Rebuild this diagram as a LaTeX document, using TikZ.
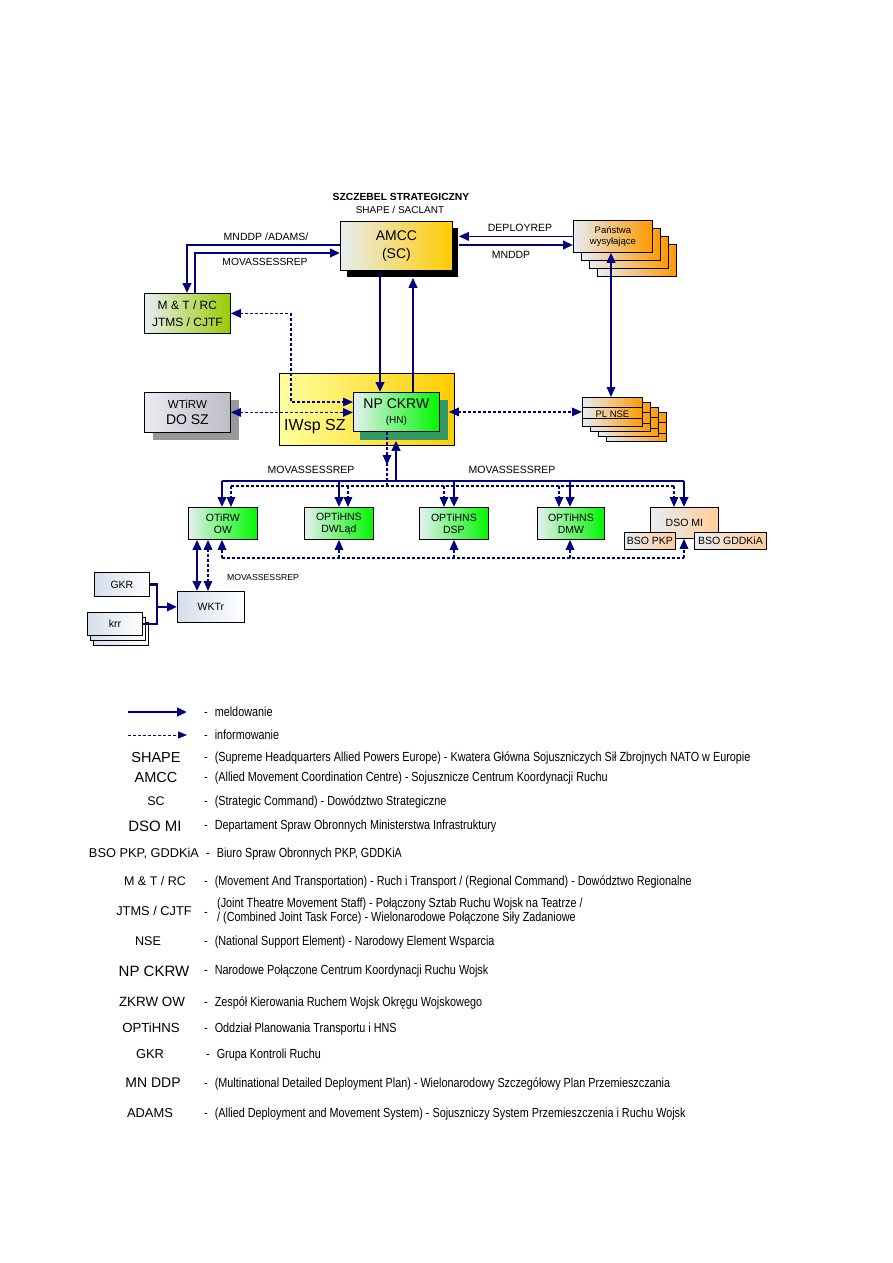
\documentclass[tikz,border=0pt]{standalone}
\usepackage{fontspec}
\setmainfont{Liberation Sans}
\newfontfamily\narrowfont[FakeStretch=0.82]{Liberation Sans}
\usetikzlibrary{arrows.meta,calc}
\definecolor{navy}{HTML}{000080}
\definecolor{lg}{HTML}{E8EDF3}
\definecolor{amccY}{HTML}{FFCC00}
\definecolor{mtG}{HTML}{99CC00}
\definecolor{orng}{HTML}{FF9900}
\definecolor{yelL}{HTML}{FFFF9C}
\definecolor{gold}{HTML}{FFCC00}
\definecolor{grn}{HTML}{00F800}
\definecolor{grnL}{HTML}{E6F0F2}
\definecolor{npsh}{HTML}{339966}
\definecolor{wtR}{HTML}{BDBDC6}
\definecolor{wtL}{HTML}{E8EBF0}
\definecolor{dsoR}{HTML}{FFCC99}
\definecolor{lbl}{HTML}{D4DEEB}
\definecolor{shgray}{HTML}{999999}
\newcommand\fs[2]{\fontsize{#1pt}{#2pt}\selectfont}
\tikzset{
 box/.style={draw=black, line width=0.8pt, inner sep=0pt, anchor=north west, align=center},
 sol/.style={draw=navy, line width=2.3pt},
 solt/.style={draw=navy, line width=1.4pt},
 solm/.style={draw=navy, line width=1.7pt},
 dsh/.style={draw=navy, line width=1.5pt, dash pattern=on 3pt off 2pt},
 dshl/.style={draw=navy, line width=0.9pt, dash pattern=on 3pt off 2pt},
 ar/.style={-{Triangle[length=10pt,width=8.5pt]}},
 arr/.style={{Triangle[length=10pt,width=8.5pt]}-{Triangle[length=10pt,width=8.5pt]}},
 lab/.style={inner sep=0pt, font=\fs{10.5}{12}},
 gbox/.style={box, left color=grnL, right color=grn, font=\fs{10.5}{12}},
 lbox/.style={box, left color=lbl, right color=white, font=\fs{10.5}{12}},
 leg/.style={inner sep=0pt},
 desc/.style={inner sep=0pt, anchor=west, font=\narrowfont\fs{13.2}{14.5}, align=left},
}
\begin{document}
\begin{tikzpicture}[x=1pt,y=-1pt]
\useasboundingbox[fill=white] (0,0) rectangle (893,1263);

% titles
\node[inner sep=0pt, font=\fs{10.3}{11}\bfseries] (t1) at (401,197) {SZCZEBEL STRATEGICZNY};
\node[inner sep=0pt, font=\fs{10}{12}] (t2) at (400,210) {SHAPE / SACLANT};

% AMCC
\node[box, draw=none, fill=black, minimum width=111pt, minimum height=49pt] (amccsh) at (347,228) {};
\node[box, minimum width=112pt, minimum height=49pt, left color=lg, right color=amccY, font=\fs{14}{18}] (amcc) at (340,221) {AMCC\\(SC)};

% M&T
\node[box, minimum width=86pt, minimum height=40pt, left color=lg, right color=mtG, font=\fs{12}{17}] (mt) at (144,293) {M \& T / RC\\JTMS / CJTF};

% Panstwa stack
\foreach \i in {3,2,1}
  \node[box, minimum width=79pt, minimum height=32pt, left color=lg, right color=orng] (pan\i) at (573+8*\i,220+8*\i) {};
\node[box, minimum width=79pt, minimum height=32pt, left color=lg, right color=orng, font=\fs{9.5}{11}] (pan0) at (573,220) {Państwa\\wysyłające};

% IWsp SZ
\node[box, minimum width=175pt, minimum height=72pt, left color=yelL, right color=gold] (iwsp) at (279,373) {};
\node[inner sep=0pt, anchor=west, font=\fs{16}{18}] (iwsplab) at (284,427) {IWsp SZ};

% NP CKRW
\node[box, draw=none, fill=npsh, minimum width=88pt, minimum height=40pt] (npsh) at (360,400) {};
\node[box, minimum width=86pt, minimum height=39pt, left color=grnL, right color=grn, font=\fs{14}{16}] (np) at (353,392) {NP CKRW\\[-1pt]{\fs{10}{12}(HN)}};

% WTiRW
\node[box, draw=none, fill=shgray, minimum width=86pt, minimum height=40pt] (wtsh) at (153,400) {};
\node[box, minimum width=86pt, minimum height=40pt, left color=wtL, right color=wtR, font=\fs{14}{16}] (wt) at (144,392) {{\fs{11.5}{14}WTiRW}\\DO SZ};

% PL NSE stack
\foreach \i in {3,2,1,0}{
  \node[box, minimum width=60pt, minimum height=29pt, left color=lg, right color=orng, font=\fs{9.5}{11}] (pl\i) at (582+8*\i,397+5*\i) {};
  \draw[line width=0.8pt] ([yshift=-10pt]pl\i.north west) -- ([yshift=-10pt]pl\i.north east);
  \draw[line width=0.8pt] ([yshift=-21pt]pl\i.north west) -- ([yshift=-21pt]pl\i.north east);
}
\node[inner sep=0pt, font=\fs{9.5}{11}] (plt) at ([yshift=-2pt]pl0.center) {PL NSE};

% lower boxes
\node[gbox, minimum width=69pt, minimum height=32pt] (otirw) at (188,507) {OTiRW\\OW};
\node[gbox, minimum width=69pt, minimum height=32pt] (dwl) at (304,507) {OPTiHNS\\DWLąd};
\node[gbox, minimum width=69pt, minimum height=32pt] (dsp) at (419,507) {OPTiHNS\\DSP};
\node[gbox, minimum width=67pt, minimum height=32pt] (dmw) at (537,507) {OPTiHNS\\DMW};
\node[box, minimum width=68pt, minimum height=31pt, left color=lg, right color=dsoR, font=\fs{10.5}{12}] (dso) at (650,507) {DSO MI};
\node[box, minimum width=51pt, minimum height=17pt, left color=lg, right color=dsoR, font=\fs{10.5}{12}] (bsopkp) at (624,532) {BSO PKP};
\node[box, minimum width=72pt, minimum height=17pt, left color=lg, right color=dsoR, font=\fs{10.5}{12}] (bsogd) at (694,532) {BSO GDDKiA};

% WKTr, GKR, krr
\node[lbox, minimum width=67pt, minimum height=31pt] (wktr) at (177,591) {WKTr};
\node[lbox, minimum width=55pt, minimum height=24pt] (gkr) at (94,572) {GKR};
\node[lbox, minimum width=55pt, minimum height=23pt] (krr3) at (93,622) {};
\node[lbox, minimum width=55pt, minimum height=23pt] (krr2) at (90,617) {};
\node[lbox, minimum width=55pt, minimum height=23pt] (krr1) at (87,612) {krr};

% ---- connectors ----
% MNDDP /ADAMS/
\draw[sol, ar] (amcc.west |- 0,245) -| (mt.north -| 187,0);
\node[lab] (lmnddp) at (266,237) {MNDDP /ADAMS/};
% MOVASSESSREP top
\draw[sol, ar] (mt.north -| 195,0) |- (amcc.west |- 0,253);
\node[lab, font=\fs{10.3}{12}] (lmov1) at (265,262) {MOVASSESSREP};

% AMCC <-> NP
\draw[sol, ar] (amcc.south -| 380,0) -- (np.north -| 380,0);
\draw[sol, ar] (np.north -| 413,0) -- (amccsh.south -| 413,0);

% DEPLOYREP / MNDDP
\draw[solt, ar] (pan0.west) -- (amccsh.east |- pan0.west);
\node[lab] (ldep) at (520,228) {DEPLOYREP};
\draw[sol, ar] (amccsh.east |- 0,245) -- (pan0.west |- 0,245);
\node[lab] (lmn) at (511,255) {MNDDP};

% Panstwa <-> PL NSE
\draw[solm, arr] (pan0.south -| 611,0) -- (pl0.north -| 611,0);

% M&T <-> NP dashed
\draw[dsh, arr] (mt.east) -| (291,402) -- (np.west |- 0,402);
% WTiRW <-> NP
\draw[dsh, arr] (wt.east) -- (np.west |- wt.east);
% NP <-> PL NSE
\draw[dsh, arr] (npsh.east |- pl0.west) -- (pl0.west);

% NP down dashed to bus
\coordinate (nd1) at (387,465);
\coordinate (nd2) at (387,486);
\draw[dsh, ar] (np.south -| nd1) -- (nd1);
\draw[dsh] ([yshift=2pt]nd1) -- (nd2);
% solid up to NP
\coordinate (nu) at (396,481);
\draw[sol, ar] (nu) -- (npsh.south -| nu);

% solid bus
\coordinate (sb1) at (222,481);
\coordinate (sb2) at (684,481);
\draw[sol] (sb1) -- (sb2);
\foreach \x/\n in {222/otirw, 339/dwl, 454/dsp, 570/dmw, 684/dso}
  \draw[sol, ar] (\x,481) -- (\n.north -| \x,0);
\node[lab] (lmov2) at (311,470) {MOVASSESSREP};
\node[lab] (lmov3) at (512,470) {MOVASSESSREP};

% dashed top bus
\coordinate (db1) at (231,486);
\coordinate (db2) at (674,486);
\draw[dsh] (db1) -- (db2);
\foreach \x/\n in {231/otirw, 348/dwl, 444/dsp, 559/dmw, 674/dso}
  \draw[dsh, ar] (\x,486) -- (\n.north -| \x,0);

% dashed bottom bus
\coordinate (bb1) at (222,558);
\coordinate (bb2) at (684,558);
\draw[dsh] (bb1) -- (bb2);
\foreach \x/\n in {222/otirw, 339/dwl, 454/dsp, 570/dmw, 684/dso}
  \draw[dsh, ar] (\x,558) -- (\n.south -| \x,0);

% OTiRW <-> WKTr
\draw[sol, arr] (otirw.south -| 197,0) -- (wktr.north -| 197,0);
\draw[dsh, arr] (otirw.south -| 208,0) -- (wktr.north -| 208,0);
\node[lab, font=\fs{8.7}{10}] (lmov4) at (263,577) {MOVASSESSREP};

% GKR / krr -> WKTr
\draw[sol] (gkr.east) -| (krr1.east -| 157,0) -- (krr1.east);
\draw[sol, ar] (wktr.west -| 157,0) -- (wktr.west);

% ---- legend ----
\coordinate (ls1) at (128,712);
\coordinate (ls2) at (187,712);
\draw[sol, ar] (ls1) -- (ls2);
\coordinate (ld1) at (128,735);
\coordinate (ld2) at (187,735);
\draw[dshl, -{Triangle[length=9pt,width=7pt]}] (ld1) -- (ld2);

\node[desc] (d1) at (204,712) {-\hspace{7pt}meldowanie};
\node[desc] (d2) at (204,735) {-\hspace{7pt}informowanie};

\node[leg, font=\fs{14.5}{16}] (k3) at (156,757) {SHAPE};
\node[desc] (d3) at (204,758) {-\hspace{7pt}(Supreme Headquarters Allied Powers Europe) - Kwatera Główna Sojuszniczych Sił Zbrojnych NATO w Europie};
\node[leg, font=\fs{14.5}{16}] (k4) at (156,777) {AMCC};
\node[desc] (d4) at (204,778) {-\hspace{7pt}(Allied Movement Coordination Centre) - Sojusznicze Centrum Koordynacji Ruchu};
\node[leg, font=\fs{12.5}{14}] (k5) at (156,801) {SC};
\node[desc] (d5) at (204,802) {-\hspace{7pt}(Strategic Command) - Dowództwo Strategiczne};
\node[leg, font=\fs{15}{16}] (k6) at (155,826) {DSO MI};
\node[desc] (d6) at (204,826) {-\hspace{7pt}Departament Spraw Obronnych Ministerstwa Infrastruktury};
\node[leg, font=\fs{12.8}{14}] (k7) at (144,854) {BSO PKP, GDDKiA};
\node[desc] (d7) at (206,854) {-\hspace{7pt}Biuro Spraw Obronnych PKP, GDDKiA};
\node[leg, font=\fs{12.5}{14}] (k8) at (155,881) {M \& T / RC};
\node[desc] (d8) at (204,882) {-\hspace{7pt}(Movement And Transportation) - Ruch i Transport / (Regional Command) - Dowództwo Regionalne};
\node[leg, font=\fs{12.8}{14}] (k9) at (154,911) {JTMS / CJTF};
\node[desc] (d9a) at (204,914) {-};
\node[desc] (d9) at (217,911) {(Joint Theatre Movement Staff) - Połączony Sztab Ruchu Wojsk na Teatrze /\\/ (Combined Joint Task Force) - Wielonarodowe Połączone Siły Zadaniowe};
\node[leg, font=\fs{12.6}{14}] (k10) at (148,941) {NSE};
\node[desc] (d10) at (204,942) {-\hspace{7pt}(National Support Element) - Narodowy Element Wsparcia};
\node[leg, font=\fs{15}{16}] (k11) at (154,971) {NP CKRW};
\node[desc] (d11) at (204,971) {-\hspace{7pt}Narodowe Połączone Centrum Koordynacji Ruchu Wojsk};
\node[leg, font=\fs{13.4}{15}] (k12) at (152,1002) {ZKRW OW};
\node[desc] (d12) at (204,1003) {-\hspace{7pt}Zespół Kierowania Ruchem Wojsk Okręgu Wojskowego};
\node[leg, font=\fs{13.2}{15}] (k13) at (151,1028) {OPTiHNS};
\node[desc] (d13) at (204,1029) {-\hspace{7pt}Oddział Planowania Transportu i HNS};
\node[leg, font=\fs{12.9}{14}] (k14) at (150,1054) {GKR};
\node[desc] (d14) at (206,1055) {-\hspace{7pt}Grupa Kontroli Ruchu};
\node[leg, font=\fs{14}{15}] (k15) at (153,1083) {MN DDP};
\node[desc] (d15) at (204,1084) {-\hspace{7pt}(Multinational Detailed Deployment Plan) - Wielonarodowy Szczegółowy Plan Przemieszczania};
\node[leg, font=\fs{12.9}{14}] (k16) at (150,1113) {ADAMS};
\node[desc] (d16) at (204,1114) {-\hspace{7pt}(Allied Deployment and Movement System) - Sojuszniczy System Przemieszczenia i Ruchu Wojsk};

\end{tikzpicture}
\end{document}
